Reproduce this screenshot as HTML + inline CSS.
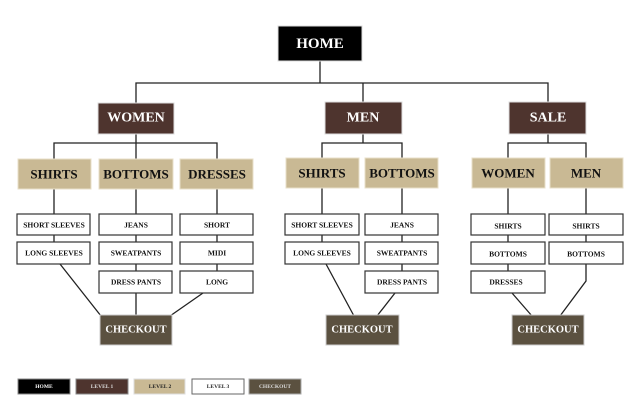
<!DOCTYPE html>
<html><head><meta charset="utf-8"><style>
html,body{margin:0;padding:0;background:#fff;width:640px;height:413px;overflow:hidden}
svg text{font-family:"Liberation Serif",serif;font-weight:bold;text-anchor:middle;dominant-baseline:central}
</style></head><body>
<svg width="640" height="413" viewBox="0 0 640 413" xmlns="http://www.w3.org/2000/svg">
<g stroke="#222" stroke-width="1.3" fill="none">
<path d="M320 60 V83 M136 103 V83 H548 V103 M363 83 V103"/>
<path d="M136 133 V143 M54 159 V143 H217 V159 M136 143 V159"/>
<path d="M363 133 V143 M322 158 V143 H402 V158"/>
<path d="M548 133 V143 M508 158 V143 H586 V158"/>
<path d="M54 189 V214 M54 235 V242 M136 189 V214 M136 235 V242 M136 264 V271 M217 189 V214 M217 235 V242 M217 264 V271"/>
<path d="M322 188 V214 M322 235 V242 M402 188 V214 M402 235 V242 M402 264 V271"/>
<path d="M508 188 V214 M508 235 V242 M508 264 V271 M586 188 V214 M586 235 V242"/>
<path d="M60 264 L101 316 M136 293 V316 M203 293 L170 316"/>
<path d="M326 264 L354 316 M395 293 L377 316"/>
<path d="M512 293 L532 316 M586 264 V281 L560 316"/>
</g>
<g stroke="#ddd" stroke-width="1">
<rect x="278" y="26" width="84" height="35" fill="#000"/>
<rect x="98" y="103" width="76" height="31" fill="#4e342e"/>
<rect x="325" y="102" width="77" height="32" fill="#4e342e"/>
<rect x="509" y="102" width="77" height="32" fill="#4e342e"/>
</g>
<g fill="#c9b994" stroke="#e8dfc8">
<rect x="18" y="159" width="73" height="30"/><rect x="99" y="159" width="74" height="30"/><rect x="180" y="159" width="73" height="30"/>
<rect x="286" y="158" width="73" height="30"/><rect x="365" y="158" width="73" height="30"/>
<rect x="472" y="158" width="73" height="30"/><rect x="550" y="158" width="73" height="30"/>
</g>
<g fill="#fff" stroke="#333" stroke-width="1.2">
<rect x="17" y="214" width="73" height="21"/><rect x="17" y="242" width="73" height="22"/>
<rect x="99" y="214" width="73" height="21"/><rect x="99" y="242" width="73" height="22"/><rect x="99" y="271" width="73" height="22"/>
<rect x="180" y="214" width="73" height="21"/><rect x="180" y="242" width="73" height="22"/><rect x="180" y="271" width="73" height="22"/>
<rect x="285" y="214" width="74" height="21"/><rect x="285" y="242" width="74" height="22"/>
<rect x="365" y="214" width="73" height="21"/><rect x="365" y="242" width="73" height="22"/><rect x="365" y="271" width="73" height="22"/>
<rect x="471" y="214" width="74" height="21"/><rect x="471" y="242" width="74" height="22"/><rect x="471" y="271" width="74" height="22"/>
<rect x="549" y="214" width="74" height="21"/><rect x="549" y="242" width="74" height="22"/>
</g>
<g fill="#5b5140" stroke="#ccc">
<rect x="100" y="315" width="72" height="30"/><rect x="326" y="315" width="73" height="30"/><rect x="512" y="315" width="72" height="30"/>
</g>
<g fill="#fff">
<text x="320" y="44" font-size="15">HOME</text>
<text x="136" y="118" font-size="14">WOMEN</text><text x="363" y="118" font-size="14">MEN</text><text x="548" y="118" font-size="14">SALE</text>
</g>
<g fill="#111" font-size="13">
<text x="54" y="174">SHIRTS</text><text x="136" y="174">BOTTOMS</text><text x="217" y="174">DRESSES</text>
<text x="322" y="173">SHIRTS</text><text x="402" y="173">BOTTOMS</text>
<text x="508" y="173">WOMEN</text><text x="586" y="173">MEN</text>
</g>
<g fill="#111" font-size="7.5">
<text x="54" y="225">SHORT SLEEVES</text><text x="54" y="253">LONG SLEEVES</text>
<text x="136" y="225">JEANS</text><text x="136" y="253">SWEATPANTS</text><text x="136" y="282">DRESS PANTS</text>
<text x="217" y="225">SHORT</text><text x="217" y="253">MIDI</text><text x="217" y="282">LONG</text>
<text x="322" y="225">SHORT SLEEVES</text><text x="322" y="253">LONG SLEEVES</text>
<text x="402" y="225">JEANS</text><text x="402" y="253">SWEATPANTS</text><text x="402" y="282">DRESS PANTS</text>
<text x="508" y="226">SHIRTS</text><text x="508" y="254">BOTTOMS</text><text x="506" y="282">DRESSES</text>
<text x="586" y="226">SHIRTS</text><text x="586" y="254">BOTTOMS</text>
</g>
<g fill="#fff" font-size="10.5">
<text x="136" y="330">CHECKOUT</text><text x="362" y="330">CHECKOUT</text><text x="548" y="330">CHECKOUT</text>
</g>
<rect x="18" y="379" width="52" height="15" fill="#000" stroke="#888"/>
<rect x="76" y="379" width="52" height="15" fill="#4e342e" stroke="#888"/>
<rect x="134" y="379" width="51" height="15" fill="#c9b994" stroke="#ddd"/>
<rect x="192" y="379" width="52" height="15" fill="#fff" stroke="#666"/>
<rect x="249" y="379" width="52" height="15" fill="#5b5140" stroke="#aaa"/>
<g font-size="5.5">
<text x="44" y="387" fill="#fff">HOME</text><text x="102" y="387" fill="#ddd">LEVEL 1</text>
<text x="160" y="387" fill="#222">LEVEL 2</text><text x="218" y="387" fill="#222">LEVEL 3</text>
<text x="275" y="387" fill="#ddd">CHECKOUT</text>
</g>
</svg>
</body></html>
